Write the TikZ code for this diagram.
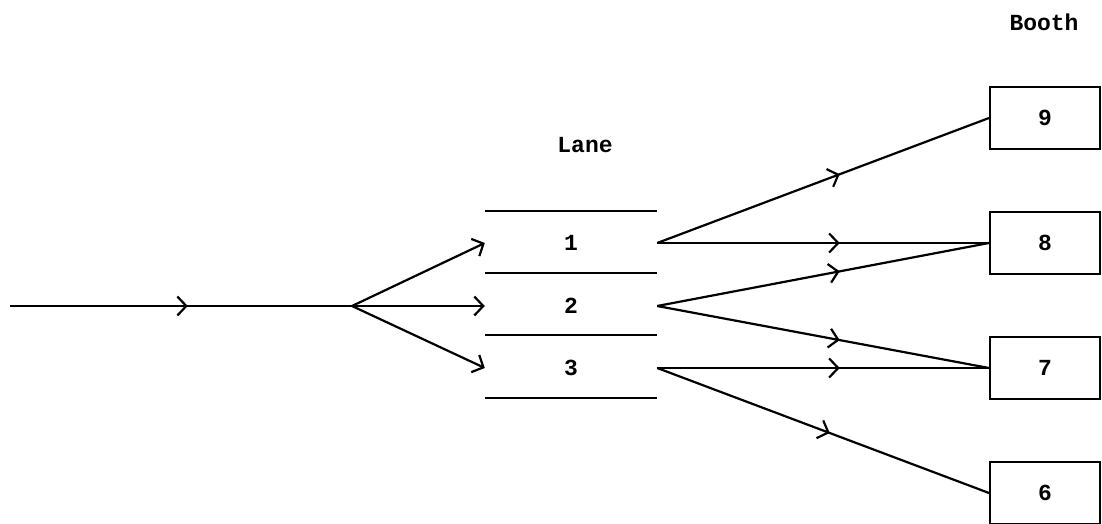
\documentclass[tikz,border=0pt]{standalone}
\usepackage{fontspec}
\setmonofont{Liberation Mono}
\usetikzlibrary{arrows.meta,decorations.markings}
\tikzset{
  conn/.style={line width=2.2pt},
  barb/.style={-{Straight Barb[length=9pt,width=19pt,line width=2.2pt]}},
  midarrow/.style={postaction={decorate},decoration={markings,
    mark=at position #1 with {\arrow{Straight Barb[length=9pt,width=19pt,line width=2.2pt]}}}},
  midarrow/.default=0.55,
  lane/.style={minimum width=172pt, minimum height=20pt, inner sep=0pt},
  booth/.style={draw, line width=2pt, minimum width=110pt, minimum height=62pt, inner sep=0pt},
  label/.style={inner sep=0pt}
}
\begin{document}
\begin{tikzpicture}[x=1pt,y=-1pt,font=\ttfamily\bfseries\fontsize{23}{25}\selectfont]
\useasboundingbox (0,0) rectangle (1102,524);
% labels
\node[label] (lanelbl) at (585,145) {Lane};
\node[label] (boothlbl) at (1044,22) {Booth};
% lane separators
\foreach \y in {211,273,335,398} \draw[conn] (485,\y) -- (657,\y);
% lanes
\node[lane] (l1) at (571,243) {1};
\node[lane] (l2) at (571,306) {2};
\node[lane] (l3) at (571,368) {3};
% booths
\node[booth] (b9) at (1045,118) {9};
\node[booth] (b8) at (1045,243) {8};
\node[booth] (b7) at (1045,368) {7};
\node[booth] (b6) at (1045,493) {6};
% input
\coordinate (in) at (10,306);
\coordinate (fork) at (352,306);
\draw[conn, midarrow=0.52] (in) -- (fork);
\draw[conn, barb] (fork) -- (l1.west);
\draw[conn, barb] (fork) -- (l2.west);
\draw[conn, barb] (fork) -- (l3.west);
% lanes to booths
\draw[conn, midarrow] (l1.east) -- (b9.west);
\draw[conn, midarrow] (l1.east) -- (b8.west);
\draw[conn, midarrow] (l2.east) -- (b8.west);
\draw[conn, midarrow] (l2.east) -- (b7.west);
\draw[conn, midarrow] (l3.east) -- (b7.west);
\draw[conn, midarrow=0.52] (l3.east) -- (b6.west);
\end{tikzpicture}
\end{document}
